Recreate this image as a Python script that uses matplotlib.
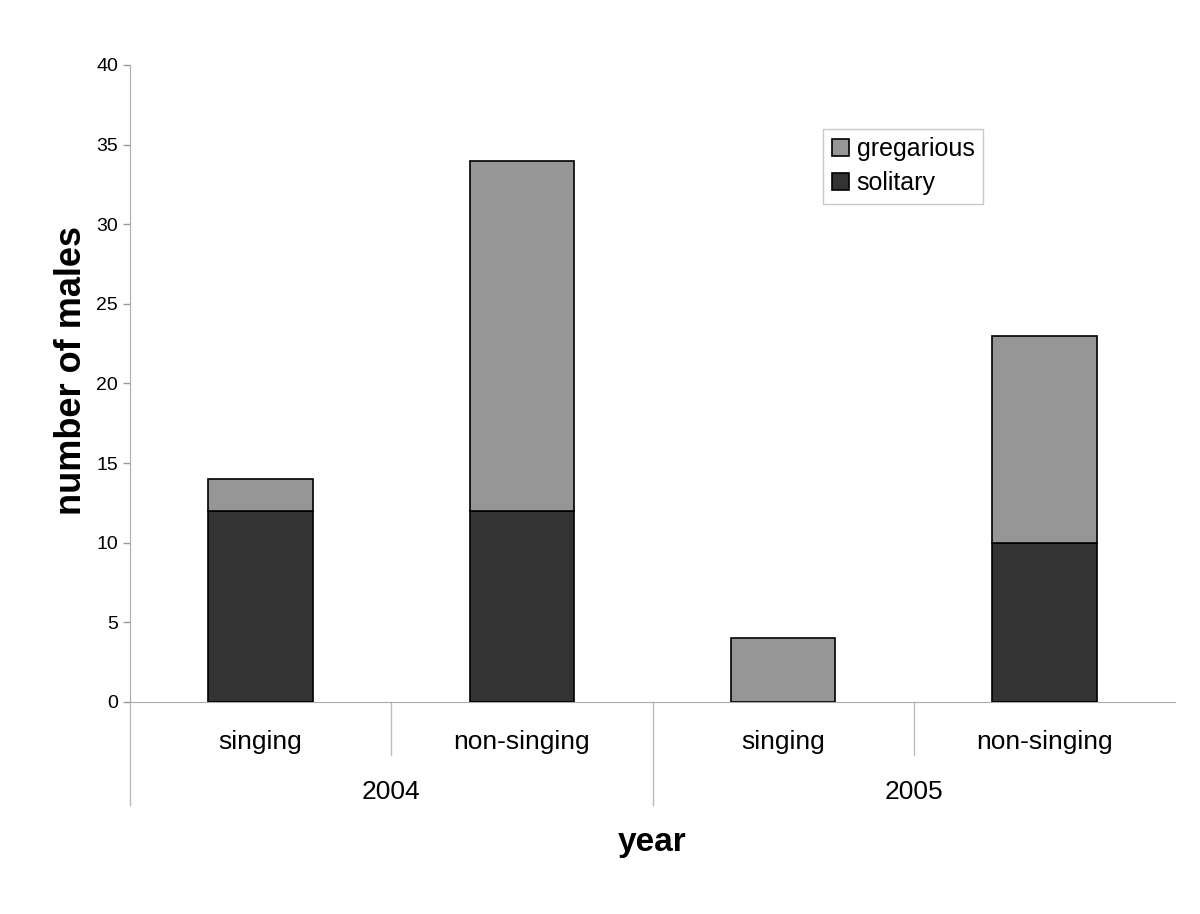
import matplotlib.pyplot as plt
import matplotlib.transforms as mtransforms

plt.rcParams['font.family'] = ['Liberation Sans', 'DejaVu Sans']

years = ['2004', '2005']
groups = ['singing', 'non-singing', 'singing', 'non-singing']
solitary = [12, 12, 0, 10]
gregarious = [2, 22, 4, 13]

fig = plt.figure(figsize=(12, 9.14), dpi=100)
ax = fig.add_axes([0.1083, 0.232, 0.8709, 0.6969])

x = list(range(len(groups)))
ax.bar(x, solitary, width=0.4, color='#333333', edgecolor='black', linewidth=1.2, label='solitary', zorder=3)
ax.bar(x, gregarious, width=0.4, bottom=solitary, color='#969696', edgecolor='black', linewidth=1.2,
       label='gregarious', zorder=3)

ax.set_xlim(-0.5, 3.5)
ax.set_ylim(0, 40)
ax.set_yticks(range(0, 41, 5))
ax.tick_params(axis='y', labelsize=14, color='#999999', length=5, width=1)
ax.tick_params(axis='x', length=0, labelsize=19, pad=20)
ax.set_xticks(x)
ax.set_xticklabels(groups)

for s in ['top', 'right']:
    ax.spines[s].set_visible(False)
ax.spines['left'].set_color('#aaaaaa')
ax.spines['bottom'].set_color('#aaaaaa')

# multi-level category axis
trans = mtransforms.blended_transform_factory(ax.transData, ax.transAxes)
for pos in [0.5, 2.5]:
    ax.plot([pos, pos], [0, -0.083], transform=trans, color='#bbbbbb', lw=1, clip_on=False)
for pos in [-0.5, 1.5]:
    ax.plot([pos, pos], [0, -0.162], transform=trans, color='#bbbbbb', lw=1, clip_on=False)
for i, yr in enumerate(years):
    ax.text(0.5 + 2 * i, -0.142, yr, transform=trans, ha='center', va='center', fontsize=19)

ax.set_ylabel('number of males', fontsize=26, fontweight='bold')
ax.yaxis.set_label_coords(-0.039, 0.52)
fig.text(0.5435, 1 - 843 / 914, 'year', ha='center', va='center', fontsize=24, fontweight='bold')

handles, labels = ax.get_legend_handles_labels()
leg = ax.legend(handles[::-1], labels[::-1], loc='upper left', bbox_to_anchor=(0.663, 0.9),
                fontsize=18, frameon=True, fancybox=False, edgecolor='#bbbbbb',
                handlelength=0.7, handleheight=0.7, handletextpad=0.3, borderpad=0.35,
                labelspacing=0.4, borderaxespad=0)
leg.get_frame().set_linewidth(1)

fig.savefig('out.png', dpi=100)
